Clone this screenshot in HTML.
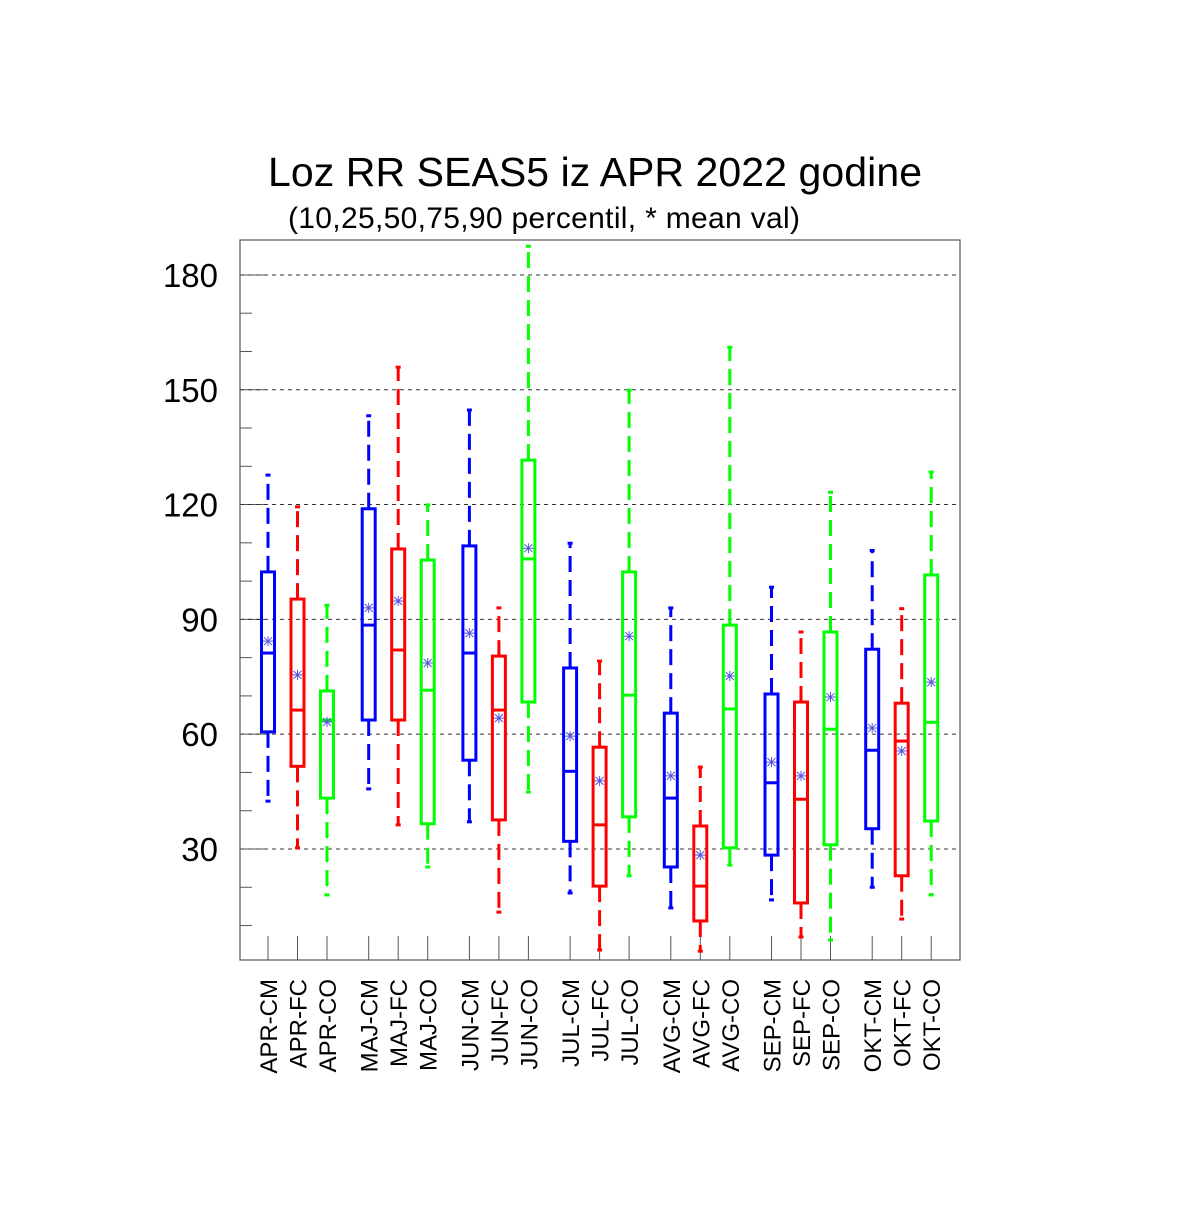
<!DOCTYPE html>
<html><head><meta charset="utf-8"><style>
body{margin:0;background:#fff}
svg text{font-family:"Liberation Sans",sans-serif}
</style></head><body>
<svg id="c" width="1200" height="1200" xmlns="http://www.w3.org/2000/svg">
<rect width="1200" height="1200" fill="#fff"/>
<text x="595" y="186" font-size="41" text-anchor="middle" textLength="654">Loz RR SEAS5 iz APR 2022 godine</text>
<text x="544" y="228" font-size="30" text-anchor="middle" textLength="512">(10,25,50,75,90 percentil, * mean val)</text>
<g id="grid"></g><g id="marks"></g>
<rect x="240" y="240" width="720" height="720" fill="none" stroke="#555" stroke-width="1.2"/>
</svg>
<script>
const categories=["APR-CM","APR-FC","APR-CO","MAJ-CM","MAJ-FC","MAJ-CO","JUN-CM","JUN-FC","JUN-CO","JUL-CM","JUL-FC","JUL-CO","AVG-CM","AVG-FC","AVG-CO","SEP-CM","SEP-FC","SEP-CO","OKT-CM","OKT-FC","OKT-CO"];
const p10=[42.5,30.3,18,45.7,36.3,25.3,37.1,13.5,44.9,18.5,3.6,23,14.6,3.3,25.8,16.7,7,6.2,20,11.7,18];
const p25=[60.6,51.6,43.3,63.7,63.7,36.6,53.2,37.6,68.4,32,20.3,38.4,25.3,11.2,30.3,28.4,15.9,31.1,35.3,23,37.3];
const p50=[81.2,66.3,63.7,88.5,82,71.5,81.2,66.3,105.8,50.3,36.3,70.2,43.3,20.3,66.6,47.3,43,61.3,55.8,58.2,63.1];
const p75=[102.4,95.3,71.3,118.9,108.4,105.5,109.2,80.4,131.6,77.3,56.6,102.4,65.5,36,88.5,70.5,68.4,86.7,82.2,68.1,101.6];
const p90=[127.7,119.4,93.7,143.2,155.9,119.9,144.7,93,187.5,109.9,79.1,149.9,93,51.4,161.1,98.4,86.7,123.2,108,92.8,128.5];
const means=[84.3,75.5,63.2,93,94.8,78.6,86.4,64.2,108.6,59.5,47.8,85.6,49.1,28.4,75.2,52.7,49.1,69.7,61.6,55.6,73.6];
const yTicks=[30,60,90,120,150,180];
const colors=["#0000ff","#ff0000","#00ff00"];
const NS="http://www.w3.org/2000/svg";
const Y=v=>963.8-v*3.827;
const X=i=>{const g=Math.floor(i/3),k=i%3;return 268+g*100.7+k*29.5;};
function mk(par,tag,at){const e=document.createElementNS(NS,tag);for(const k in at)e.setAttribute(k,at[k]);par.appendChild(e);return e;}
const grid=document.getElementById('grid'),marks=document.getElementById('marks');
for(let v=10;v<189;v+=10){
 const major=yTicks.includes(v);
 const t=mk(grid,'line',{x1:240,x2:major?264:252,y1:Y(v),y2:Y(v),stroke:'#555','stroke-width':1});
 
 
}
yTicks.forEach(v=>{
 const l=mk(grid,'line',{x1:240,x2:960,y1:Y(v),y2:Y(v),stroke:'#333','stroke-width':1,'stroke-dasharray':'4,4'});
 
 
 const t=mk(grid,'text',{x:218,y:Y(v)+12,'font-size':33,'text-anchor':'end'});
 t.textContent=v;
 
 
});
categories.forEach((c,i)=>{
 const x=X(i),col=colors[i%3];
 const t=mk(grid,'line',{x1:x,x2:x,y1:936,y2:960,stroke:'#555','stroke-width':1});
 
 
 const lb=mk(grid,'text',{x:0,y:0,'font-size':24,'text-anchor':'end',transform:`translate(${x+9},979) rotate(-90)`});
 lb.textContent=c;
 
 
 const g=mk(marks,'g',{});
 
 
 mk(g,'line',{x1:x,x2:x,y1:Y(p75[i]),y2:Y(p90[i]),stroke:col,'stroke-width':3,'stroke-dasharray':'16,8'});
 mk(g,'line',{x1:x,x2:x,y1:Y(p25[i]),y2:Y(p10[i]),stroke:col,'stroke-width':3,'stroke-dasharray':'16,8'});
 mk(g,'line',{x1:x-2.5,x2:x+2.5,y1:Y(p90[i]),y2:Y(p90[i]),stroke:col,'stroke-width':3});
 mk(g,'line',{x1:x-2.5,x2:x+2.5,y1:Y(p10[i]),y2:Y(p10[i]),stroke:col,'stroke-width':3});
 mk(g,'rect',{x:x-6.5,y:Y(p75[i]),width:13,height:Y(p25[i])-Y(p75[i]),fill:'none',stroke:col,'stroke-width':3});
 mk(g,'line',{x1:x-6.5,x2:x+6.5,y1:Y(p50[i]),y2:Y(p50[i]),stroke:col,'stroke-width':3});
 const my=Y(means[i]);
 const m=mk(g,'path',{d:`M${x-5} ${my}H${x+5}M${x} ${my-5}V${my+5}M${x-4} ${my-4}L${x+4} ${my+4}M${x-4} ${my+4}L${x+4} ${my-4}`,stroke:'#5555dd','stroke-width':1,fill:'none'});
 
 
});
</script>
</body></html>
